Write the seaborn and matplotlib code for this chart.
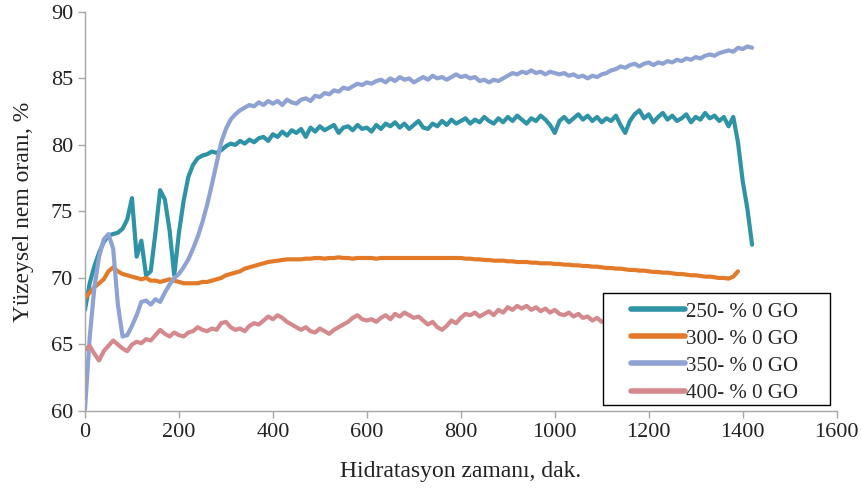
import numpy as np
import pandas as pd
import matplotlib
matplotlib.use("Agg")
import matplotlib.pyplot as plt
from matplotlib.patches import Rectangle
import seaborn as sns

STEP = 10  # dakika, okuma araligi

nem_250 = [
    67.6, 69.6, 70.9, 71.9, 72.7, 73.2, 73.3, 73.4, 73.7, 74.4,
    76.0, 71.6, 72.8, 70.2, 70.5, 73.4, 76.6, 75.9, 73.6, 70.2,
    73.4, 75.8, 77.6, 78.5, 79.0, 79.2, 79.3, 79.5, 79.4, 79.6,
    79.9, 80.1, 80.0, 80.3, 80.1, 80.4, 80.2, 80.5, 80.6, 80.3,
    80.8, 80.6, 81.0, 80.7, 81.1, 80.9, 81.2, 80.6, 81.3, 81.0,
    81.4, 81.1, 81.3, 81.5, 80.9, 81.3, 81.4, 81.1, 81.5, 81.2,
    81.3, 81.0, 81.5, 81.2, 81.6, 81.4, 81.7, 81.3, 81.6, 81.2,
    81.5, 81.8, 81.3, 81.2, 81.6, 81.4, 81.8, 81.5, 81.9, 81.6,
    81.8, 82.0, 81.6, 81.9, 81.7, 82.1, 81.8, 81.6, 82.0, 81.7,
    82.1, 81.8, 82.2, 81.9, 81.6, 82.0, 81.8, 82.2, 81.9, 81.5,
    80.9, 81.8, 82.1, 81.7, 82.0, 82.3, 81.9, 82.2, 81.8, 82.1,
    81.7, 82.0, 81.8, 82.2, 81.5, 80.9, 81.8, 82.3, 82.6, 82.0,
    82.3, 81.7, 82.1, 82.4, 81.9, 82.2, 81.8, 82.0, 82.3, 81.7,
    82.1, 81.9, 82.4, 82.0, 82.2, 81.8, 82.1, 81.4, 82.1, 80.2,
    77.3, 75.2, 72.5,
]

nem_300 = [
    68.5, 68.9, 69.3, 69.6, 69.9, 70.5, 70.8, 70.5, 70.3, 70.2,
    70.1, 70.0, 69.9, 70.0, 69.8, 69.8, 69.7, 69.8, 69.9, 69.8,
    69.7, 69.6, 69.6, 69.6, 69.6, 69.7, 69.7, 69.8, 69.9, 70.0,
    70.2, 70.3, 70.4, 70.5, 70.7, 70.8, 70.9, 71.0, 71.1, 71.2,
    71.25, 71.3, 71.35, 71.4, 71.4, 71.4, 71.4, 71.45, 71.45, 71.5,
    71.5, 71.45, 71.5, 71.5, 71.55, 71.5, 71.5, 71.45, 71.5, 71.5,
    71.5, 71.5, 71.45, 71.5, 71.5, 71.5, 71.5, 71.5, 71.5, 71.5,
    71.5, 71.5, 71.5, 71.5, 71.5, 71.5, 71.5, 71.5, 71.5, 71.5,
    71.5, 71.45, 71.45, 71.4, 71.4, 71.35, 71.35, 71.3, 71.3, 71.3,
    71.25, 71.25, 71.2, 71.2, 71.2, 71.15, 71.15, 71.1, 71.1, 71.1,
    71.05, 71.05, 71.0, 71.0, 70.95, 70.95, 70.9, 70.9, 70.85, 70.85,
    70.8, 70.75, 70.75, 70.7, 70.7, 70.65, 70.6, 70.6, 70.55, 70.55,
    70.5, 70.45, 70.45, 70.4, 70.4, 70.35, 70.3, 70.3, 70.25, 70.2,
    70.2, 70.15, 70.1, 70.1, 70.05, 70.0, 70.0, 69.95, 70.1, 70.5,
]

nem_350 = [
    60.1, 65.5, 69.3, 71.6, 72.9, 73.3, 72.2, 68.0, 65.6, 65.7,
    66.4, 67.2, 68.2, 68.3, 68.0, 68.4, 68.2, 68.9, 69.5, 70.0,
    70.3, 70.8, 71.4, 72.2, 73.1, 74.2, 75.5, 77.0, 78.6, 80.2,
    81.2, 81.9, 82.3, 82.6, 82.8, 83.0, 82.9, 83.2, 83.0, 83.3,
    83.1, 83.3, 83.0, 83.4, 83.2, 83.1, 83.4, 83.5, 83.3, 83.7,
    83.6, 83.9, 83.8, 84.1, 84.0, 84.3, 84.2, 84.4, 84.6, 84.5,
    84.7, 84.6, 84.8, 84.9, 84.7, 85.0, 84.8, 85.1, 84.9, 85.0,
    84.7, 84.9, 85.1, 84.9, 85.2, 85.0, 85.1, 84.9, 85.1, 85.3,
    85.1, 85.2, 85.0, 85.1, 84.8, 84.9, 84.7, 84.9, 84.8, 85.0,
    85.2, 85.4, 85.3, 85.5, 85.4, 85.6, 85.4, 85.5, 85.3, 85.5,
    85.4, 85.3, 85.4, 85.2, 85.3, 85.1, 85.2, 85.0, 85.2, 85.1,
    85.3, 85.4, 85.6, 85.7, 85.9, 85.8, 86.0, 86.1, 85.9, 86.1,
    86.2, 86.0, 86.2, 86.1, 86.3, 86.2, 86.4, 86.3, 86.5, 86.4,
    86.6, 86.5, 86.7, 86.8, 86.7, 86.9, 87.0, 87.1, 87.0, 87.3,
    87.2, 87.4, 87.3,
]

nem_400 = [
    64.6, 64.9, 64.3, 63.8, 64.5, 64.9, 65.3, 65.0, 64.7, 64.5,
    65.0, 65.2, 65.1, 65.4, 65.3, 65.7, 66.1, 65.8, 65.6, 65.9,
    65.7, 65.6, 65.9, 66.0, 66.3, 66.1, 66.0, 66.2, 66.1, 66.6,
    66.7, 66.3, 66.1, 66.2, 66.0, 66.4, 66.6, 66.5, 66.8, 67.1,
    66.9, 67.2, 67.0, 66.7, 66.5, 66.3, 66.1, 66.3, 66.0, 65.9,
    66.2, 66.0, 65.8, 66.1, 66.3, 66.5, 66.7, 67.0, 67.2, 66.9,
    66.8, 66.9, 66.7, 67.0, 67.2, 66.9, 67.3, 67.1, 67.4, 67.2,
    67.0, 67.1, 66.8, 66.5, 66.7, 66.3, 66.1, 66.4, 66.8, 66.6,
    67.0, 67.3, 67.2, 67.4, 67.1, 67.3, 67.5, 67.2, 67.6, 67.4,
    67.8, 67.6, 67.9, 67.7, 67.9, 67.6, 67.8, 67.5, 67.7, 67.4,
    67.6, 67.3, 67.2, 67.4, 67.1, 67.3, 67.0, 67.1, 66.8, 67.0,
    66.7, 66.9, 66.8, 67.0, 66.9, 67.1, 67.0, 66.8, 67.1, 67.0,
    67.2, 67.0, 67.1, 67.3, 67.1, 67.2, 67.0, 67.2, 67.3, 67.1,
    67.2, 67.3, 67.1, 67.2, 67.4, 67.2, 67.3, 67.1, 67.2,
]

labels = ["250- % 0 GO", "300- % 0 GO", "350- % 0 GO", "400- % 0 GO"]
colors = ["#2F93A6", "#E27A2A", "#8EA2D3", "#D4898D"]

frames = []
for lab, vals in zip(labels, [nem_250, nem_300, nem_350, nem_400]):
    frames.append(pd.DataFrame({
        "t": np.arange(len(vals)) * STEP,
        "nem": vals,
        "seri": lab,
    }))
df = pd.concat(frames, ignore_index=True)

sns.set_style("ticks")
plt.rcParams["font.family"] = ["Liberation Serif", "DejaVu Serif"]

fig = plt.figure(figsize=(8.61, 4.94), dpi=100)
ax = fig.add_axes([0.0987, 0.168, 0.873, 0.808])

sns.lineplot(data=df, x="t", y="nem", hue="seri", palette=colors,
             linewidth=3.0, estimator=None, sort=False, ax=ax)

ax.set_xlim(0, 1600)
ax.set_ylim(60, 90)
ax.set_xticks(range(0, 1601, 200))
ax.set_yticks(range(60, 91, 5))

for s in ["top", "right"]:
    ax.spines[s].set_visible(False)
for s in ["left", "bottom"]:
    ax.spines[s].set_color("#A6A6A6")
    ax.spines[s].set_linewidth(1.0)
ax.tick_params(colors="#A6A6A6", labelcolor="#222222", labelsize=16,
               length=5, width=1, direction="out")

ax.set_xlabel("Hidratasyon zamanı, dak.", fontsize=17, labelpad=14,
              color="#222222")
ax.set_ylabel("Yüzeysel nem oranı, %", fontsize=17, labelpad=12,
              color="#222222")

# legend frame drawn separately (wider side padding than the text needs)
box = Rectangle((0.689, 0.015), 0.302, 0.281, transform=ax.transAxes,
                facecolor="white", edgecolor="black", linewidth=1.0,
                zorder=4.5, clip_on=False)
ax.add_patch(box)

leg = ax.legend(loc="upper left", bbox_to_anchor=(0.727, 0.273),
                fontsize=15, frameon=False, handlelength=2.55,
                handletextpad=0.08, labelspacing=0.36, borderpad=0,
                borderaxespad=0)
leg.set_zorder(5)
for h in leg.get_lines():
    h.set_linewidth(4)

fig.savefig("out.png", dpi=100)
